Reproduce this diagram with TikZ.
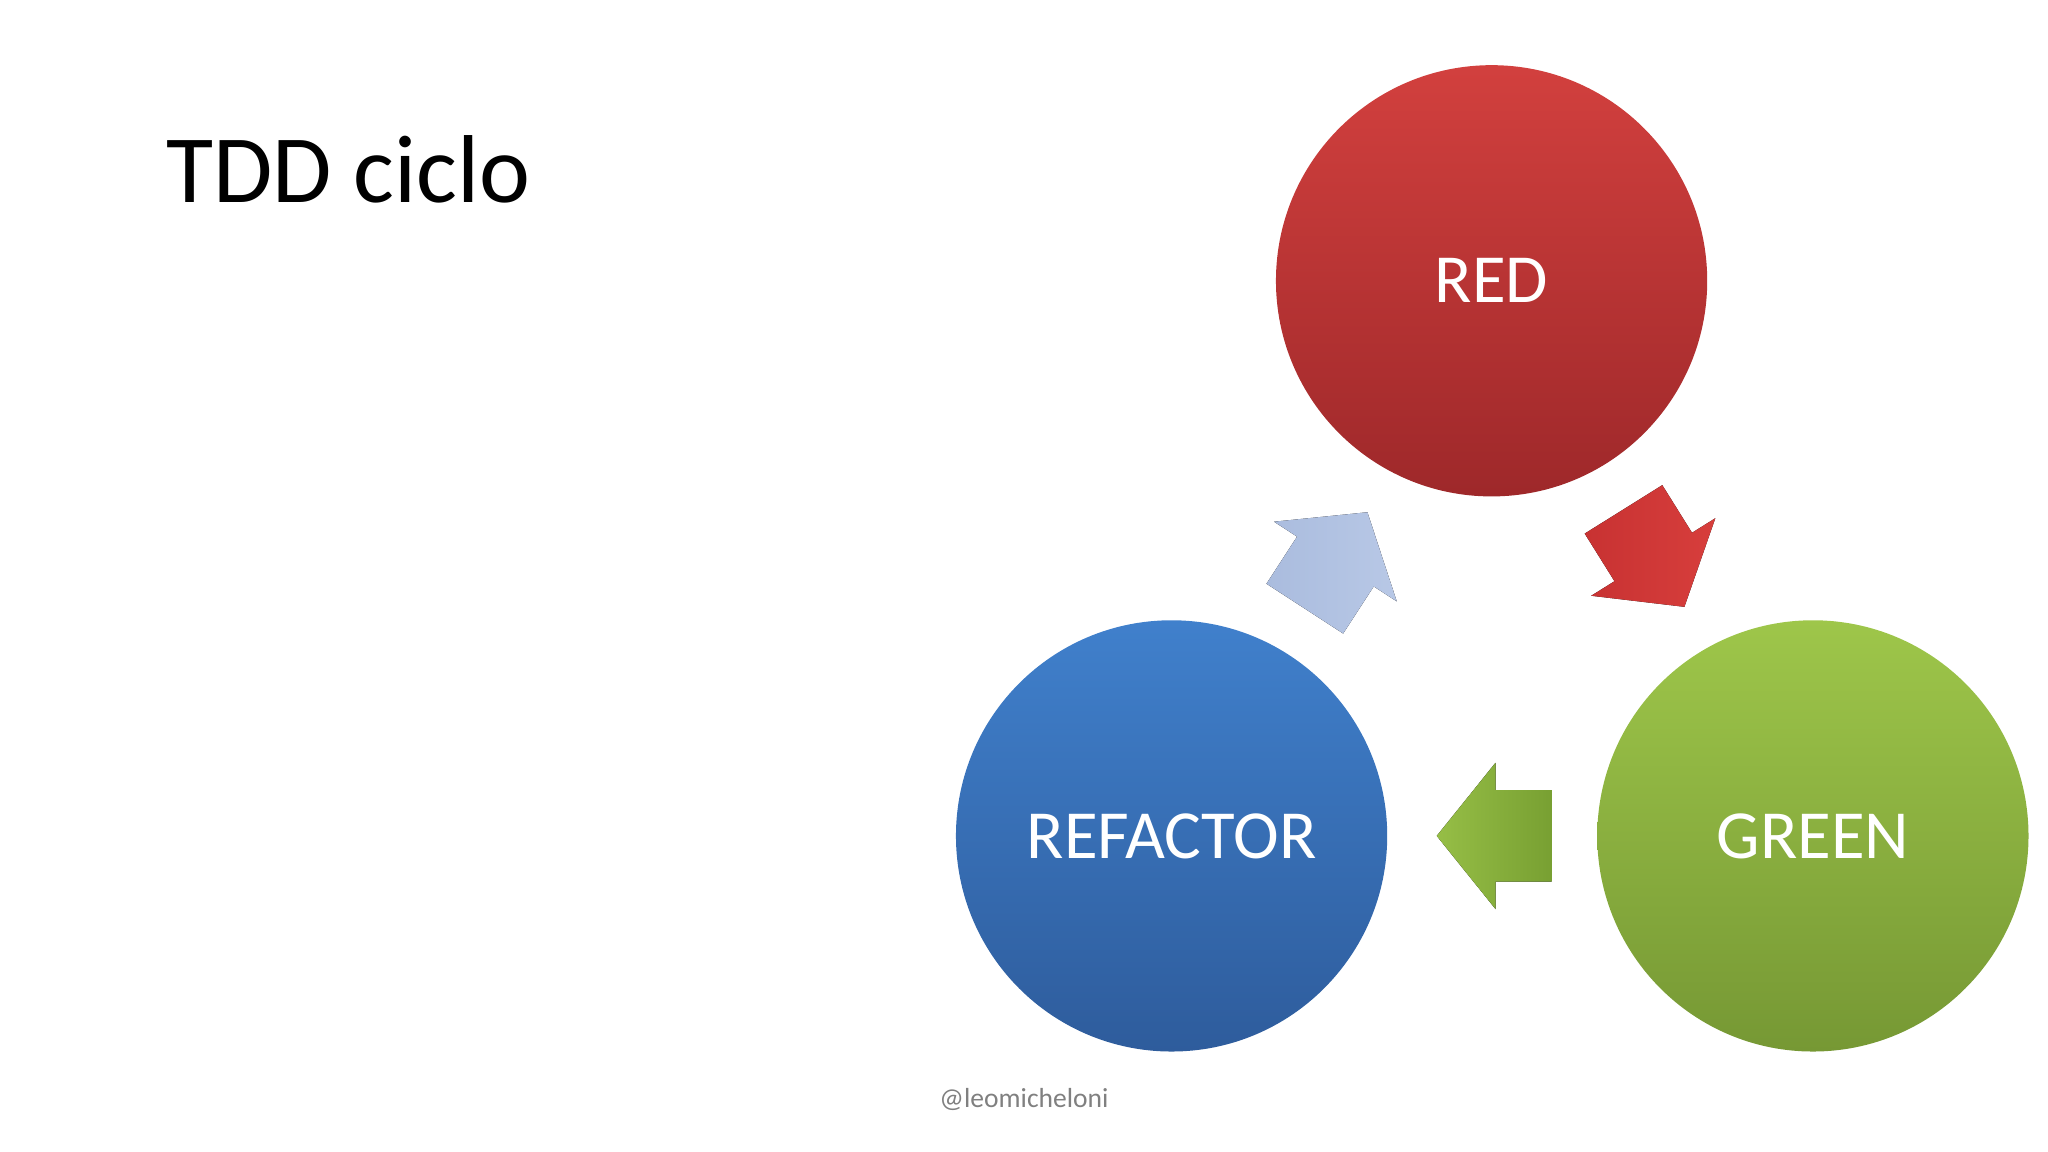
\documentclass[tikz,border=0pt]{standalone}
\usepackage{fontspec}
\setmainfont{Carlito}
\begin{document}
\begin{tikzpicture}[x=0.01cm,y=0.01cm,
  ball/.style={circle,minimum size=3.3cm,inner sep=0pt,text=white,font=\fontsize{15}{18}\selectfont},
  blk/.style={draw=none}]
\useasboundingbox (0,0) rectangle (1568,882);
\node[anchor=base west,font=\fontsize{21}{25}\selectfont] (title) at (115,727) {TDD ciclo};
\node[ball,top color=red!75!orange!85!white,bottom color=red!55!black!90,shading angle=0,
  top color={rgb,255:red,210;green,64;blue,62},bottom color={rgb,255:red,158;green,40;blue,42}] (red) at (1142,667) {RED};
\node[ball,top color={rgb,255:red,158;green,198;blue,74},bottom color={rgb,255:red,118;green,152;blue,52}] (green) at (1388,242) {GREEN};
\node[ball,top color={rgb,255:red,64;green,128;blue,204},bottom color={rgb,255:red,46;green,92;blue,156}] (blue) at (897,242) {REFACTOR};
\newcommand{\blockarrow}[4]{%
  \fill[shift={(#1)},rotate=#2,left color=#3,right color=#4]
   (0,-35) -- (43,-35) -- (43,-56) -- (88,0) -- (43,56) -- (43,35) -- (0,35) -- cycle;}
\coordinate (ar) at (1243,492);
\coordinate (ag) at (1188,242);
\coordinate (ab) at (999,416);
\blockarrow{ar}{-58}{{rgb,255:red,200;green,50;blue,50}}{{rgb,255:red,215;green,62;blue,60}}
\blockarrow{ag}{180}{{rgb,255:red,150;green,190;blue,70}}{{rgb,255:red,120;green,160;blue,50}}
\blockarrow{ab}{57}{{rgb,255:red,170;green,188;blue,222}}{{rgb,255:red,184;green,200;blue,230}}
\node[text=gray,font=\fontsize{6}{7}\selectfont] (foot) at (784,40) {@leomicheloni};
\end{tikzpicture}
\end{document}
